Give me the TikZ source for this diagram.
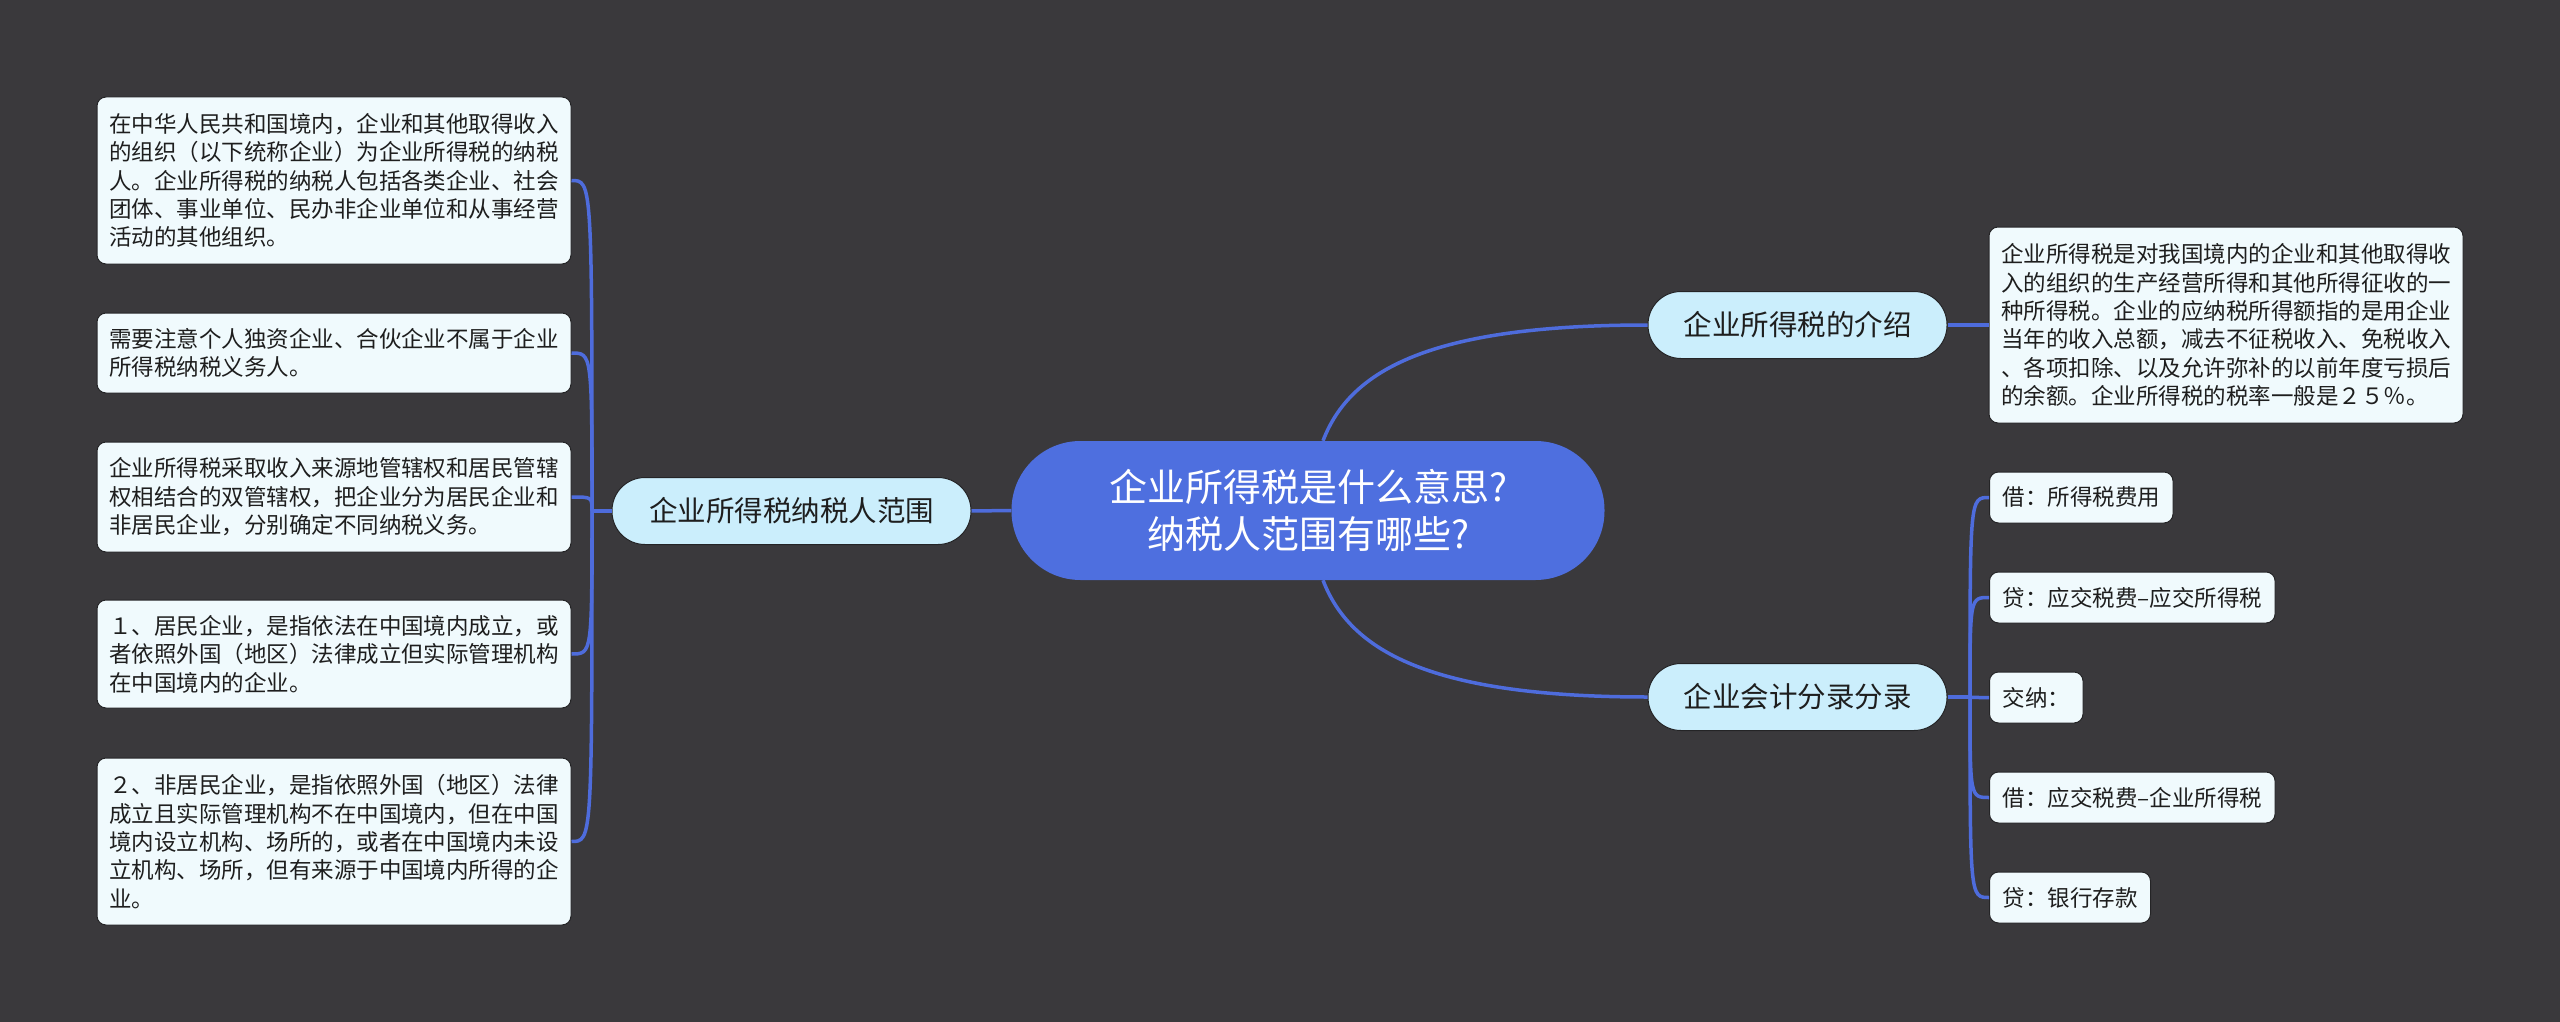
\documentclass[tikz,border=0pt]{standalone}
\usepackage{fontspec}
\setmainfont{Noto Sans CJK SC}
\usetikzlibrary{calc}
\definecolor{bg}{RGB}{58,57,60}
\definecolor{rootblue}{RGB}{78,111,223}
\definecolor{conncol}{RGB}{78,108,220}
\definecolor{subfill}{RGB}{203,238,252}
\definecolor{leaffill}{RGB}{240,250,253}
\definecolor{txt}{RGB}{30,30,30}
\definecolor{edge}{RGB}{36,36,38}
\begin{document}
\begin{tikzpicture}[x=1pt,y=-1pt,
  rootbox/.style={fill=rootblue,text=white,rounded corners=69pt,minimum width=593pt,minimum height=139pt,inner sep=0pt,align=center,font=\fontsize{38}{47}\selectfont},
  subbox/.style={fill=subfill,draw=edge,line width=1pt,text=txt,rounded corners=33pt,minimum width=299pt,minimum height=67pt,inner sep=0pt,font=\fontsize{28.5}{34}\selectfont},
  leafbox/.style={fill=leaffill,draw=edge,line width=1pt,text=txt,rounded corners=9pt,text width=450pt,inner xsep=12pt,inner ysep=0pt,align=left,font=\fontsize{22.5}{28.4}\selectfont},
  smallleaf/.style={fill=leaffill,draw=edge,line width=1pt,text=txt,rounded corners=9pt,inner xsep=13pt,inner ysep=0pt,minimum height=51pt,anchor=west,font=\fontsize{22.5}{28.4}\selectfont},
  conn/.style={draw=conncol,line width=3.5pt}
]
\fill[bg] (0,0) rectangle (2560,1022);
\useasboundingbox (0,0) rectangle (2560,1022);

\coordinate (spL) at (592,511);
\coordinate (spR) at (1970,697);

\node[rootbox] (root) at (1308,510.5) {企业所得税是什么意思?\\纳税人范围有哪些?};
\node[subbox,minimum width=359pt] (ls) at (791.5,511) {企业所得税纳税人范围};
\node[subbox] (ri) at (1797.5,325) {企业所得税的介绍};
\node[subbox] (rk) at (1797.5,697) {企业会计分录分录};

\node[leafbox,minimum height=167pt] (lf1) at (334,180.5) {在中华人民共和国境内，企业和其他取得收入\\的组织（以下统称企业）为企业所得税的纳税\\人。企业所得税的纳税人包括各类企业、社会\\团体、事业单位、民办非企业单位和从事经营\\活动的其他组织。};
\node[leafbox,minimum height=80pt] (lf2) at (334,353) {需要注意个人独资企业、合伙企业不属于企业\\所得税纳税义务人。};
\node[leafbox,minimum height=110pt] (lf3) at (334,497) {企业所得税采取收入来源地管辖权和居民管辖\\权相结合的双管辖权，把企业分为居民企业和\\非居民企业，分别确定不同纳税义务。};
\node[leafbox,minimum height=108pt] (lf4) at (334,654) {１、居民企业，是指依法在中国境内成立，或\\者依照外国（地区）法律成立但实际管理机构\\在中国境内的企业。};
\node[leafbox,minimum height=167pt] (lf5) at (334,841.5) {２、非居民企业，是指依照外国（地区）法律\\成立且实际管理机构不在中国境内，但在中国\\境内设立机构、场所的，或者在中国境内未设\\立机构、场所，但有来源于中国境内所得的企\\业。};

\node[leafbox,minimum height=196pt] (intro) at (2226,325) {企业所得税是对我国境内的企业和其他取得收\\入的组织的生产经营所得和其他所得征收的一\\种所得税。企业的应纳税所得额指的是用企业\\当年的收入总额，减去不征税收入、免税收入\\、各项扣除、以及允许弥补的以前年度亏损后\\的余额。企业所得税的税率一般是２５％。};

\node[smallleaf] (r1) at (1989,497.5) {借：所得税费用};
\node[smallleaf] (r2) at (1989,597.5) {贷：应交税费–应交所得税};
\node[smallleaf] (r3) at (1989,697.5) {交纳：};
\node[smallleaf] (r4) at (1989,797.5) {借：应交税费–企业所得税};
\node[smallleaf] (r5) at (1989,897.5) {贷：银行存款};

\draw[conn] (ls.east) -- (root.west);
\draw[conn] ($(root.north)+(15,0)$) .. controls (1350,370) and (1430,325) .. (ri.west);
\draw[conn] ($(root.south)+(15,0)$) .. controls (1350,651) and (1430,697) .. (rk.west);
\draw[conn] (ri.east) -- (intro.west);

\draw[conn] (ls.west) -- (spL);
\foreach \n in {lf1,lf2,lf3,lf4,lf5}{
  \draw[conn] (spL) .. controls (spL |- \n.east) .. (\n.east);
}
\draw[conn] (rk.east) -- (spR);
\foreach \n in {r1,r2,r3,r4,r5}{
  \draw[conn] (spR) .. controls (spR |- \n.west) .. (\n.west);
}
\end{tikzpicture}
\end{document}
